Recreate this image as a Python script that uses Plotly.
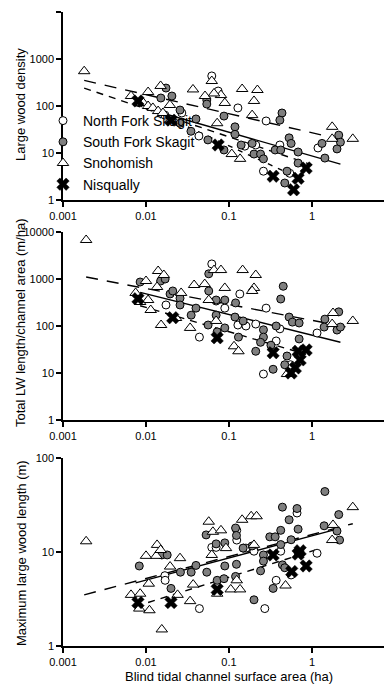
import plotly.graph_objects as go

# ---------------- data (x = channel area, ha) ----------------
# Panel 1: Large wood density
p1_nfs_x = [0.0169, 0.027, 0.0434, 0.062, 0.074, 0.128, 0.155, 0.21, 0.28, 0.41, 1.18, 0.26, 0.54]
p1_nfs_y = [64, 71, 23, 436, 208, 91, 14, 14.8, 48, 14.8, 12.8, 4.1, 3.7]
p1_sfs_x = [0.0151, 0.0174, 0.0205, 0.0257, 0.0257, 0.0348, 0.040, 0.054, 0.054, 0.0557, 0.087, 0.118,
            0.118, 0.087, 0.14, 0.19, 0.2, 0.24, 0.26, 0.36, 0.42, 0.435, 0.41, 0.53, 0.56, 0.68, 1.32,
            1.43, 2.1, 2.2, 2.0, 0.5, 0.47, 0.68]
p1_sfs_y = [148, 241, 163, 82, 43, 29, 53, 134, 110, 19, 61, 36, 25, 11.6, 14.8, 16, 9.5, 9.5, 7.5, 11.6,
            11.6, 71, 50, 21, 16, 10.5, 16, 7.8, 24, 17, 12.2, 4.1, 2.3, 6.1]
p1_sno_x = [0.0018, 0.0066, 0.0106, 0.015, 0.0093, 0.0106, 0.0121, 0.014, 0.016, 0.0194, 0.0368, 0.0514,
            0.062, 0.08, 0.089, 0.072, 0.144, 0.22, 0.2, 0.19, 0.108, 0.136, 1.75, 1.75, 3.1, 0.066]
p1_sno_y = [550, 163, 198, 267, 116, 100, 91, 78, 71, 105, 225, 163, 340, 171, 116, 43, 230, 219, 128, 64,
            9.5, 7.5, 36, 20, 20, 185]
p1_nis_x = [0.008, 0.02, 0.074, 0.34, 0.6, 0.68, 0.85]
p1_nis_y = [128, 50, 14.8, 3.2, 1.65, 2.9, 4.8]

# Panel 2: Total LW length / channel area (m/ha)
p2_nfs_x = [0.0174, 0.044, 0.062, 0.07, 0.089, 0.135, 0.128, 0.16, 0.21, 0.28, 0.26, 0.41, 0.37, 1.15, 0.55]
p2_nfs_y = [280, 58, 2090, 340, 240, 480, 105, 100, 110, 240, 9.5, 87, 48, 71, 15]
p2_sfs_x = [0.0085, 0.015, 0.017, 0.0195, 0.021, 0.0257, 0.0257, 0.035, 0.04, 0.056, 0.057, 0.057, 0.07,
            0.07, 0.072, 0.089, 0.089, 0.12, 0.118, 0.148, 0.13, 0.21, 0.26, 0.26, 0.24, 0.32, 0.34, 0.37,
            0.42, 0.45, 0.53, 0.58, 0.7, 0.7, 0.5, 0.47, 1.43, 1.4, 2.1, 2.0, 2.2]
p2_sfs_y = [863, 906, 1000, 480, 556, 390, 280, 170, 240, 105, 1290, 556, 357, 170, 75, 357, 91, 310, 155,
            128, 58, 29, 83, 58, 45, 39, 12, 100, 375, 700, 155, 121, 116, 53, 23, 15, 140, 95, 200, 82, 95]
p2_sno_x = [0.0019, 0.0075, 0.01, 0.0106, 0.0085, 0.0114, 0.0136, 0.014, 0.0164, 0.0152, 0.0265, 0.034,
            0.038, 0.051, 0.066, 0.08, 0.057, 0.07, 0.089, 0.146, 0.21, 0.2, 0.19, 0.115, 0.13, 0.5, 1.79,
            1.75, 3.1, 0.023]
p2_sno_y = [6760, 505, 906, 357, 324, 219, 676, 1480, 1217, 105, 505, 91, 745, 780, 1550, 1550, 357, 128,
            645, 1550, 1217, 645, 556, 37, 29, 9.5, 189, 110, 128, 148]
p2_nis_x = [0.008, 0.021, 0.072, 0.34, 0.56, 0.63, 0.72, 0.68, 0.85]
p2_nis_y = [380, 150, 56, 27, 10, 12.8, 19, 29, 31]

# Panel 3: Maximum large wood length (m)
p3_nfs_x = [0.0169, 0.017, 0.044, 0.062, 0.07, 0.124, 0.124, 0.15, 0.16, 0.2, 0.27, 0.37, 0.29, 0.42,
            0.56, 0.66, 1.15]
p3_nfs_y = [5.6, 5.0, 2.5, 11.2, 11.2, 17, 13.4, 11, 11, 10.2, 2.5, 5.0, 9.3, 10.2, 5.7, 26, 9.7]
p3_sfs_x = [0.0083, 0.0155, 0.018, 0.02, 0.026, 0.035, 0.04, 0.054, 0.053, 0.07, 0.089, 0.072, 0.087,
            0.089, 0.12, 0.123, 0.123, 0.12, 0.148, 0.19, 0.2, 0.24, 0.26, 0.26, 0.31, 0.36, 0.34, 0.42,
            0.42, 0.44, 0.44, 0.47, 0.53, 0.56, 0.66, 0.68, 1.4, 1.43, 2.1, 2.0, 2.15]
p3_sfs_y = [7.1, 9.3, 9.3, 4.1, 6.1, 6.1, 7.2, 6.1, 15.2, 12.2, 12.5, 5.0, 5.2, 7.1, 18, 15, 7.4, 5.5, 11,
            11.6, 3.1, 6.3, 9.3, 8, 14.5, 14.5, 4.1, 17, 12, 30, 7.3, 6.8, 22, 13.5, 29, 17.5, 19, 44, 25,
            16.7, 13.4]
p3_sno_x = [0.0019, 0.0066, 0.0083, 0.0085, 0.01, 0.0108, 0.011, 0.0136, 0.0133, 0.015, 0.0155, 0.0195,
            0.0257, 0.024, 0.034, 0.037, 0.057, 0.064, 0.08, 0.062, 0.072, 0.092, 0.105, 0.136, 0.124,
            0.144, 0.185, 0.215, 0.2, 0.48, 1.79, 1.75, 3.1]
p3_sno_y = [13, 3.5, 2.5, 3.6, 9.1, 4.6, 2.4, 11.9, 9.1, 10.5, 1.5, 7, 8.6, 3.5, 3.0, 4.5, 21, 16.4, 17,
            9.3, 3.6, 11, 4, 4, 5, 22, 24, 24, 11.9, 4.4, 19.4, 13.4, 30]
p3_nis_x = [0.008, 0.02, 0.072, 0.34, 0.57, 0.68, 0.72, 0.85]
p3_nis_y = [2.9, 2.9, 4.0, 9.3, 6.2, 9.5, 10.3, 7.1]

# Fitted regression lines (end points)
p1_fit_solid = ([0.016, 2.2], [70, 5.8])
p1_fit_long = ([0.0018, 2.7], [350, 18])
p1_fit_med = ([0.0018, 1.0], [240, 5.6])
p1_fit_short = ([0.008, 0.85], [110, 2.5])

p2_fit_solid = ([0.0085, 2.2], [520, 45])
p2_fit_long = ([0.0019, 3.0], [1100, 91])
p2_fit_med = ([0.0085, 0.85], [270, 25])

p3_fit_solid = ([0.0075, 2.0], [4.7, 17.5])
p3_fit_long = ([0.0018, 3.1], [3.5, 20])
p3_fit_short = ([0.0106, 1.1], [2.9, 10.5])

series_names = ["North Fork Skagit", "South Fork Skagit", "Snohomish", "Nisqually"]
x_ticks = [0.001, 0.01, 0.1, 1, 10]
x_tick_text = ["0.001", "0.01", "0.1", "1", "10"]
y_ticks_4 = [1, 10, 100, 1000, 10000]
y_ticks_4_text = ["1", "10", "100", "1000", "10000"]
y_ticks_2 = [1, 10, 100]
y_ticks_2_text = ["1", "10", "100"]
y_titles = ["Large wood density", "Total LW length/channel area (m/ha)", "Maximum large wood length (m)"]
x_title = "Blind tidal channel surface area (ha)"

# ---------------- figure ----------------
FONT = "Liberation Sans, Arial, sans-serif"
styles = [
    dict(symbol="circle", size=8, color="white", line=dict(color="black", width=1)),
    dict(symbol="circle", size=8, color="#7f7f7f", line=dict(color="black", width=1)),
    dict(symbol="triangle-up", size=10, color="white", line=dict(color="black", width=1)),
    dict(symbol="x", size=11, color="black", line=dict(color="black", width=0.5)),
]

panels = [
    dict(ax=("x", "y"),
         series=[(p1_nfs_x, p1_nfs_y), (p1_sfs_x, p1_sfs_y), (p1_sno_x, p1_sno_y), (p1_nis_x, p1_nis_y)],
         fits=[(p1_fit_long, "12px,9px"), (p1_fit_med, "7px,6px"), (p1_fit_short, "5px,6px"),
               (p1_fit_solid, "solid")]),
    dict(ax=("x2", "y2"),
         series=[(p2_nfs_x, p2_nfs_y), (p2_sfs_x, p2_sfs_y), (p2_sno_x, p2_sno_y), (p2_nis_x, p2_nis_y)],
         fits=[(p2_fit_long, "12px,9px"), (p2_fit_med, "7px,6px"), (p2_fit_solid, "solid")]),
    dict(ax=("x3", "y3"),
         series=[(p3_nfs_x, p3_nfs_y), (p3_sfs_x, p3_sfs_y), (p3_sno_x, p3_sno_y), (p3_nis_x, p3_nis_y)],
         fits=[(p3_fit_long, "12px,9px"), (p3_fit_short, "7px,6px"), (p3_fit_solid, "solid")]),
]

fig = go.Figure()
for pi, p in enumerate(panels):
    xa, ya = p["ax"]
    for (fx, fy), dash in p["fits"]:
        fig.add_trace(go.Scatter(x=fx, y=fy, mode="lines", xaxis=xa, yaxis=ya, showlegend=False,
                                 line=dict(color="black", width=1.4, dash=dash), hoverinfo="skip"))
    for si, (sx, sy) in enumerate(p["series"]):
        fig.add_trace(go.Scatter(x=sx, y=sy, mode="markers", xaxis=xa, yaxis=ya,
                                 name=series_names[si], legendgroup=series_names[si],
                                 showlegend=(pi == 0), marker=styles[si]))

L, R, T, B = 55, 5, 4, 47
H = 685
plot_h = H - T - B


def dom(top_px, bot_px):
    return [(H - B - bot_px) / plot_h, (H - B - top_px) / plot_h]


axis_common = dict(showgrid=False, zeroline=False, showline=True, linecolor="black", linewidth=1.5,
                   ticks="outside", ticklen=5, tickwidth=1.5, tickcolor="black", mirror=False,
                   automargin=False, tickfont=dict(family=FONT, size=11, color="black"))
xa_common = dict(axis_common, type="log", range=[-3, 1], tickvals=x_ticks, ticktext=x_tick_text,
                 domain=[0, 1])

fig.update_layout(
    width=392, height=H, margin=dict(l=L, r=R, t=T, b=B),
    paper_bgcolor="white", plot_bgcolor="white",
    font=dict(family=FONT, size=13, color="black"),
    xaxis=dict(xa_common, anchor="y"),
    xaxis2=dict(xa_common, anchor="y2"),
    xaxis3=dict(xa_common, anchor="y3"),
    yaxis=dict(axis_common, type="log", range=[0, 4], tickvals=y_ticks_4, ticktext=y_ticks_4_text,
               domain=dom(4, 192), anchor="x"),
    yaxis2=dict(axis_common, type="log", range=[0, 4], tickvals=y_ticks_4, ticktext=y_ticks_4_text,
                domain=dom(224, 412), anchor="x2"),
    yaxis3=dict(axis_common, type="log", range=[0, 2], tickvals=y_ticks_2, ticktext=y_ticks_2_text,
                domain=dom(450, 638), anchor="x3"),
    legend=dict(x=(35 - L) / (392 - L - R), xanchor="left",
                y=(H - B - 97) / plot_h, yanchor="top",
                bgcolor="rgba(0,0,0,0)", borderwidth=0,
                font=dict(family=FONT, size=14, color="black"),
                tracegroupgap=0, itemwidth=30),
    showlegend=True,
)

pw = 392 - L - R
annots = []
for title, cy in zip(y_titles, [97, 315, 545]):
    annots.append(dict(text=title, xref="paper", yref="paper", x=(13 - L) / pw, y=(H - B - cy) / plot_h,
                       xanchor="center", yanchor="middle", textangle=-90, showarrow=False,
                       font=dict(family=FONT, size=13, color="black")))
annots.append(dict(text=x_title, xref="paper", yref="paper", x=0.5, y=(H - B - 668) / plot_h,
                   xanchor="center", yanchor="middle", showarrow=False,
                   font=dict(family=FONT, size=13, color="black")))
fig.update_layout(annotations=annots)

fig.write_html("out.html")
